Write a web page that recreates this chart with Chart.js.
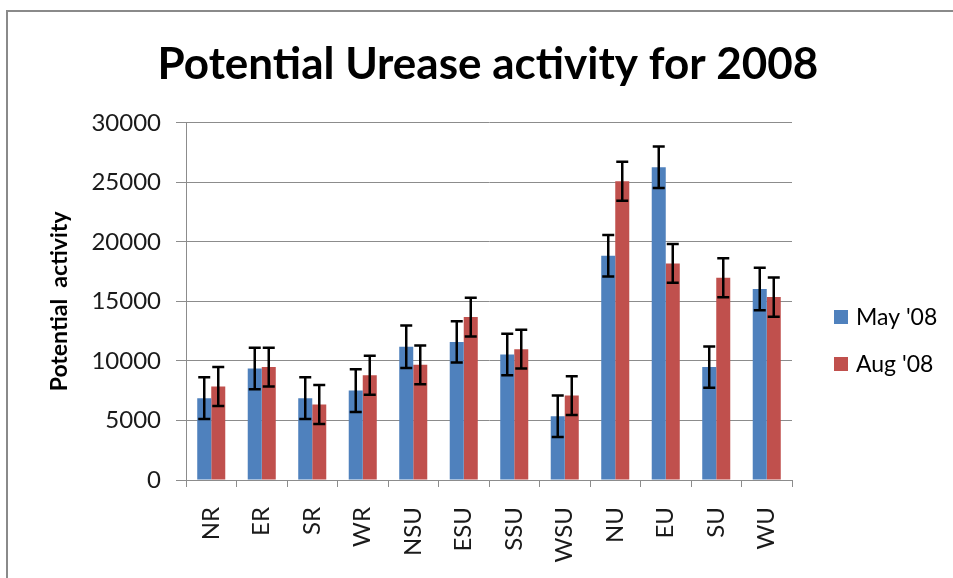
<!DOCTYPE html>
<html>
<head>
<meta charset="utf-8">
<title>Potential Urease activity for 2008</title>
<script src="https://cdn.jsdelivr.net/npm/chart.js@4.4.1/dist/chart.umd.min.js"></script>
<style>
  html, body { margin: 0; padding: 0; background: #fff; }
  canvas { display: block; }
</style>
</head>
<body>
<canvas id="chart0" width="953" height="578"></canvas>
<script>
// sites sampled
const sites = ["NR", "ER", "SR", "WR", "NSU", "ESU", "SSU", "WSU", "NU", "EU", "SU", "WU"];

// mean potential activity per site
const mayValues = [6870, 9360, 6870, 7510, 11190, 11600, 10540, 5360, 18840, 26270, 9480, 16040];
const augValues = [7850, 9480, 6340, 8800, 9670, 13680, 10990, 7090, 25090, 18190, 16990, 15360];

// error bar half-lengths
const mayErr = [1750, 1740, 1750, 1790, 1780, 1740, 1750, 1740, 1740, 1750, 1740, 1790];
const augErr = [1630, 1630, 1630, 1630, 1630, 1630, 1630, 1630, 1630, 1630, 1640, 1640];

const yTicks = [0, 5000, 10000, 15000, 20000, 25000, 30000];

const FONT = "Lato";
const GRID = "#8c8c8c";

// grey frame round the chart
const frame = {
    id: "frame",
    beforeDraw(chart) {
        const ctx = chart.ctx;
        ctx.save();
        ctx.strokeStyle = "#8a8a8a";
        ctx.lineWidth = 2;
        ctx.strokeRect(7, 11, chart.width + 20, chart.height + 20);
        ctx.restore();
    }
};

// I-shaped error bars on top of each bar
const errorBars = {
    id: "errorBars",
    afterDatasetsDraw(chart) {
        const ctx = chart.ctx;
        const y = chart.scales.y;
        ctx.save();
        ctx.strokeStyle = "#000";
        ctx.lineWidth = 2.5;
        chart.data.datasets.forEach((ds, i) => {
            const meta = chart.getDatasetMeta(i);
            meta.data.forEach((bar, j) => {
                const v = ds.data[j];
                const e = ds.errors[j];
                const top = y.getPixelForValue(v + e);
                const bottom = y.getPixelForValue(v - e);
                const x = bar.x;
                ctx.beginPath();
                ctx.moveTo(x, top);
                ctx.lineTo(x, bottom);
                ctx.moveTo(x - 6, top);
                ctx.lineTo(x + 6, top);
                ctx.moveTo(x - 6, bottom);
                ctx.lineTo(x + 6, bottom);
                ctx.stroke();
            });
        });
        ctx.restore();
    }
};

// legend to the right of the plot
const sideLegend = {
    id: "sideLegend",
    afterDraw(chart) {
        const ctx = chart.ctx;
        const x = chart.chartArea.right + 42;
        let y = 310;
        ctx.save();
        ctx.font = "23px " + FONT;
        ctx.textBaseline = "middle";
        chart.data.datasets.forEach((ds) => {
            ctx.fillStyle = ds.backgroundColor;
            ctx.fillRect(x, y, 14, 14);
            ctx.fillStyle = "#000";
            ctx.fillText(ds.label, x + 22, y + 8);
            y += 47;
        });
        ctx.restore();
    }
};

const ctx = document.getElementById("chart0").getContext("2d");
window.chart = new Chart(ctx, {
    type: "bar",
    data: {
        labels: sites,
        datasets: [
            {
                label: "May '08",
                data: mayValues,
                errors: mayErr,
                backgroundColor: "#4F81BD",
                categoryPercentage: 0.555,
                barPercentage: 1.0,
            },
            {
                label: "Aug '08",
                data: augValues,
                errors: augErr,
                backgroundColor: "#C0504D",
                categoryPercentage: 0.555,
                barPercentage: 1.0,
            },
        ],
    },
    options: {
        responsive: false,
        animation: false,
        layout: {
            padding: { left: 23, right: 0, top: 0, bottom: 0 },
        },
        scales: {
            y: {
                min: 0,
                max: 30000,
                afterFit(scale) { scale.width = 163; },
                afterBuildTicks(scale) { scale.ticks = yTicks.map(v => ({ value: v })); },
                ticks: {
                    padding: 15,
                    color: "#1a1a1a",
                    font: { family: FONT, size: 24 },
                    callback: (v) => String(v),
                },
                grid: {
                    color: GRID,
                    lineWidth: 1,
                    tickLength: 10,
                },
                border: { color: GRID, width: 1 },
                title: {
                    display: true,
                    text: "Potential  activity",
                    color: "#000",
                    font: { family: FONT, size: 23, weight: "bold" },
                    padding: { top: 23, bottom: 0 },
                },
            },
            // empty column on the right that holds the legend
            legendSpace: {
                type: "linear",
                position: "right",
                afterFit(scale) { scale.width = 161; },
                ticks: { display: false },
                grid: { display: false },
                border: { display: false },
            },
            x: {
                afterFit(scale) { scale.height = 98; },
                ticks: {
                    minRotation: 90,
                    maxRotation: 90,
                    padding: 20,
                    color: "#1a1a1a",
                    font: { family: FONT, size: 24 },
                },
                grid: {
                    color: GRID,
                    drawOnChartArea: false,
                    tickLength: 7,
                },
                border: { color: GRID, width: 1 },
            },
        },
        plugins: {
            legend: { display: false },
            tooltip: { enabled: false },
            title: {
                display: true,
                text: "Potential Urease activity for 2008",
                color: "#000",
                font: { family: FONT, size: 44, weight: "bold" },
                padding: { top: 38, bottom: 32 },
            },
        },
    },
    plugins: [frame, errorBars, sideLegend],
});
</script>
</body>
</html>
